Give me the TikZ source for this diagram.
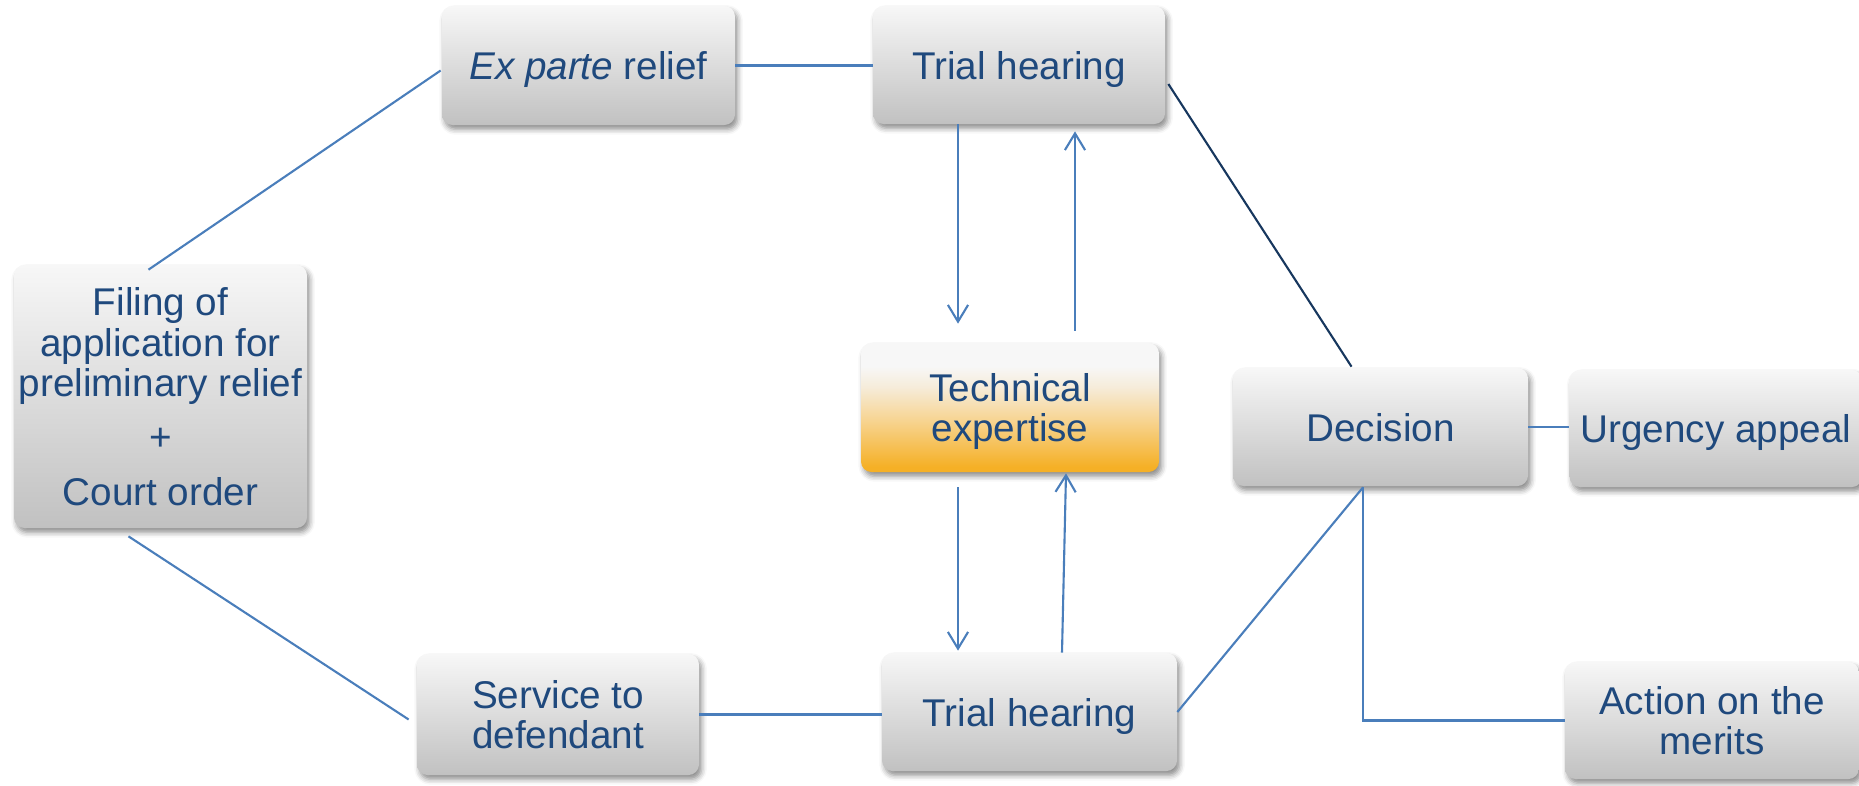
\documentclass[tikz,border=0pt]{standalone}
\usepackage{fontspec}
\setmainfont{Liberation Sans}
\usetikzlibrary{arrows.meta,calc,shadows.blur}

\definecolor{textblue}{RGB}{31,73,125}
\definecolor{lineblue}{RGB}{74,126,187}
\definecolor{navyline}{RGB}{23,55,94}
\definecolor{boxtop}{RGB}{247,247,247}
\definecolor{boxmid}{RGB}{228,228,228}
\definecolor{boxbot}{RGB}{193,193,193}
\definecolor{techorange}{RGB}{245,176,38}
\definecolor{techpale}{RGB}{247,212,145}
\definecolor{techcream}{RGB}{246,236,218}

% vertical shading for the highlighted box: orange at the bottom, light grey on top
\pgfdeclareverticalshading{techfill}{100bp}{%
  color(0bp)=(techorange); color(27bp)=(techorange);
  color(45bp)=(techpale); color(58bp)=(techcream);
  color(66bp)=(boxtop); color(100bp)=(boxtop)}

\begin{document}
\begin{tikzpicture}[x=0.02cm, y=-0.02cm,
  basebox/.style={rectangle, rounded corners=6pt, inner sep=0pt, align=center,
    text depth=0pt,
    text=textblue, font=\fontsize{22}{23}\selectfont,
    blur shadow={shadow xshift=1.5pt, shadow yshift=-2.5pt,
      shadow blur radius=3pt, shadow opacity=45}},
  box/.style={basebox, top color=boxtop, middle color=boxmid, bottom color=boxbot},
  techbox/.style={basebox, shading=techfill},
  sz/.style 2 args={minimum width=#1*0.02cm, minimum height=#2*0.02cm},
  link/.style={draw=lineblue, line width=1.2pt},
  flow/.style={link, -{Straight Barb[length=9.5pt, width=11.5pt]}},
]
\path[use as bounding box] (0,0) rectangle (1859,785);

% boxes
\node[box, sz={293}{263}] (filing) at (160.5,396.5)
  {Filing of\\application for\\preliminary relief\\[8pt]+\\[8pt]Court order};
\node[box, sz={293}{119}] (exparte) at (588.5,65.5) {\textit{Ex parte} relief};
\node[box, sz={292}{118}] (trialtop) at (1019,65) {Trial hearing};
\node[techbox, sz={298}{129}] (tech) at (1010,407.5) {Technical\\expertise};
\node[box, sz={295}{118}] (decision) at (1380.5,427) {Decision};
\node[box, sz={293}{117}] (urgency) at (1716,428.5) {Urgency appeal};
\node[box, sz={294}{117}] (action) at (1712,720.5) {Action on the\\merits};
\node[box, sz={282}{121}] (service) at (558,714.5) {Service to\\defendant};
\node[box, sz={295}{118}] (trialbot) at (1029.5,712) {Trial hearing};

% plain connectors
\draw[link] ($(filing.north)+(-12,5)$) -- ($(exparte.west)+(-1,5)$);
\draw[link] ($(filing.south)+(-32,8)$) -- ($(service.west)+(-8,5)$);
\draw[link] (exparte.east) -- (exparte.east -| trialtop.west);
\draw[link, draw=navyline] ($(trialtop.east)+(3,19)$) -- ($(decision.north)+(-29,-1)$);
\draw[link] (service.east) -- (service.east -| trialbot.west);
\draw[link] (trialbot.east) -- ($(decision.south)+(-17.5,1)$);
\draw[link] (decision.east) -- (decision.east -| urgency.west);
\draw[link] ($(decision.south)+(-17.5,1)$) |- (action.west);

% arrows to and from the expertise box
\draw[flow] ($(trialtop.south)+(-61,0)$) -- ($(tech.north)+(-52,-19)$);
\draw[flow] ($(tech.north)+(65,-12)$) -- ($(trialtop.south)+(56,7)$);
\draw[flow] ($(tech.south)+(-52,15)$) -- ($(trialbot.north)+(-71.5,-2)$);
\draw[flow] ($(trialbot.north)+(32.5,0)$) -- ($(tech.south)+(56,1)$);
\end{tikzpicture}
\end{document}
